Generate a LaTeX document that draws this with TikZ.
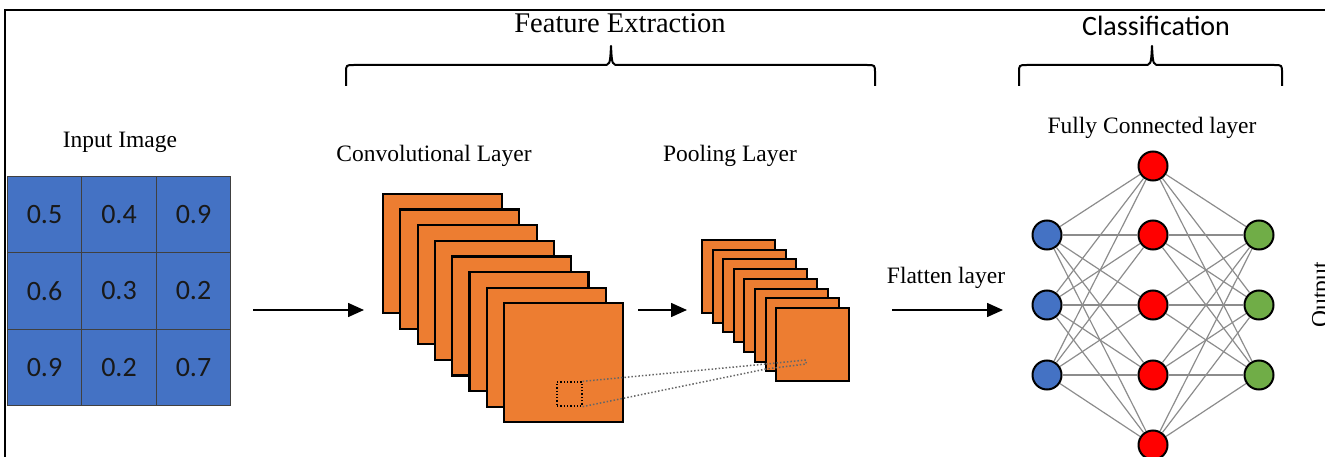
\documentclass[tikz,border=0pt]{standalone}
\usepackage{fontspec}
\setmainfont{Liberation Serif}
\newfontfamily\calib{Carlito}
\usetikzlibrary{arrows.meta}
\definecolor{cblue}{HTML}{4472C4}
\definecolor{corange}{HTML}{ED7D31}
\definecolor{cgreen}{HTML}{70AD47}
\definecolor{cred}{HTML}{FF0000}
\begin{document}
\begin{tikzpicture}[x=1pt,y=-1pt,
  lbl/.style={font=\fontsize{23.5}{28}\selectfont, inner sep=0pt, anchor=base},
  cell/.style={draw=black!75, line width=0.9pt, fill=cblue, minimum width=74.7pt, minimum height=76.3pt, inner sep=0pt, font=\calib\fontsize{28}{32}\selectfont, text=black!90},
  fmap/.style={draw=black, line width=2.2pt, fill=corange, minimum size=119pt, inner sep=0pt},
  pmap/.style={draw=black, line width=2pt, fill=corange, minimum size=73pt, inner sep=0pt},
  neuron/.style={circle, draw=black, line width=2pt, minimum size=29pt, inner sep=0pt},
  edge/.style={draw=black!45, line width=1.2pt},
  flow/.style={line width=1.5pt, -{Triangle[length=16pt,width=14pt]}},
  brace/.style={line width=2pt, line join=round},
  proj/.style={draw=black!60, dotted, line width=1.5pt},
]
\useasboundingbox (0,0) rectangle (1325,457);
% frame
\draw[line width=2pt] (5,458) -- (5,10) -- (1326,10);

% headings and braces
\node[lbl, font=\fontsize{28.5}{32}\selectfont] (fe) at (620,33) {Feature Extraction};
\draw[brace] (346,86) -- (346,73) .. controls (346,65) .. (354,65) -- (603,65) .. controls (610,65) .. (611,46) .. controls (612,65) .. (619,65) -- (867,65) .. controls (875,65) .. (875,73) -- (875,86);
\node[lbl, font=\calib\fontsize{28}{32}\selectfont] (cl) at (1156,36) {Classification};
\draw[brace] (1019,86) -- (1019,73) .. controls (1019,65) .. (1027,65) -- (1144,65) .. controls (1151,65) .. (1152,46) .. controls (1153,65) .. (1160,65) -- (1274,65) .. controls (1282,65) .. (1282,73) -- (1282,86);

% labels
\node[lbl] (lin) at (120,148) {Input Image};
\node[lbl] (lconv) at (434,162) {Convolutional Layer};
\node[lbl] (lpool) at (730,162) {Pooling Layer};
\node[lbl] (lfc) at (1152,134) {Fully Connected layer};
\node[lbl] (lfl) at (946,283) {Flatten layer};
\node[lbl, rotate=90] (lout) at (1327.6,295) {Output};

% input grid
\node[cell] (c11) at (44.5,215) {0.5};
\node[cell] (c12) at (119,215) {0.4};
\node[cell] (c13) at (193.5,215) {0.9};
\node[cell] (c21) at (44.5,291) {0.6};
\node[cell] (c22) at (119,291) {0.3};
\node[cell] (c23) at (193.5,291) {0.2};
\node[cell] (c31) at (44.5,367.5) {0.9};
\node[cell] (c32) at (119,367.5) {0.2};
\node[cell] (c33) at (193.5,367.5) {0.7};

% arrows
\coordinate (a1s) at (253,310); \coordinate (a1e) at (364,310);
\draw[flow] (a1s) -- (a1e);
\coordinate (a2s) at (638,310); \coordinate (a2e) at (687,310);
\draw[flow] (a2s) -- (a2e);
\coordinate (a3s) at (892,310); \coordinate (a3e) at (1003,310);
\draw[flow] (a3s) -- (a3e);

% convolution feature maps
\foreach \i in {0,...,7}
  \node[fmap] (k\i) at ({442.5+17.3*\i},{253.5+15.6*\i}) {};
% pooling maps
\foreach \i in {0,...,7}
  \node[pmap] (p\i) at ({738.5+10.6*\i},{276.5+9.7*\i}) {};

% receptive field window and projection
\node[draw=black, dotted, line width=1.3pt, minimum width=25pt, minimum height=24pt, inner sep=0pt] (win) at (569.5,394) {};
\coordinate (q1) at (766,364);
\coordinate (q2) at (766,369);
\coordinate (q3) at (806,360);
\coordinate (q4) at (806,364);
\draw[proj] (win.north east) -- (q1);
\draw[proj] (win.south east) -- (q2);
\draw[proj] (q1) -- (q3) -- (q4) -- (q2);

% fully connected network
\foreach \j/\y in {1/235,2/305,3/375}
  \node[neuron, fill=cblue] (b\j) at (1047,\y) {};
\foreach \j/\y in {1/166,2/235,3/305,4/375,5/445}
  \node[neuron, fill=cred] (r\j) at (1153,\y) {};
\foreach \j/\y in {1/235,2/305,3/375}
  \node[neuron, fill=cgreen] (g\j) at (1259,\y) {};
\foreach \a in {1,2,3}
  \foreach \b in {1,...,5}
    \draw[edge] (b\a) -- (r\b);
\foreach \b in {1,...,5}
  \foreach \c in {1,2,3}
    \draw[edge] (r\b) -- (g\c);
\end{tikzpicture}
\end{document}
